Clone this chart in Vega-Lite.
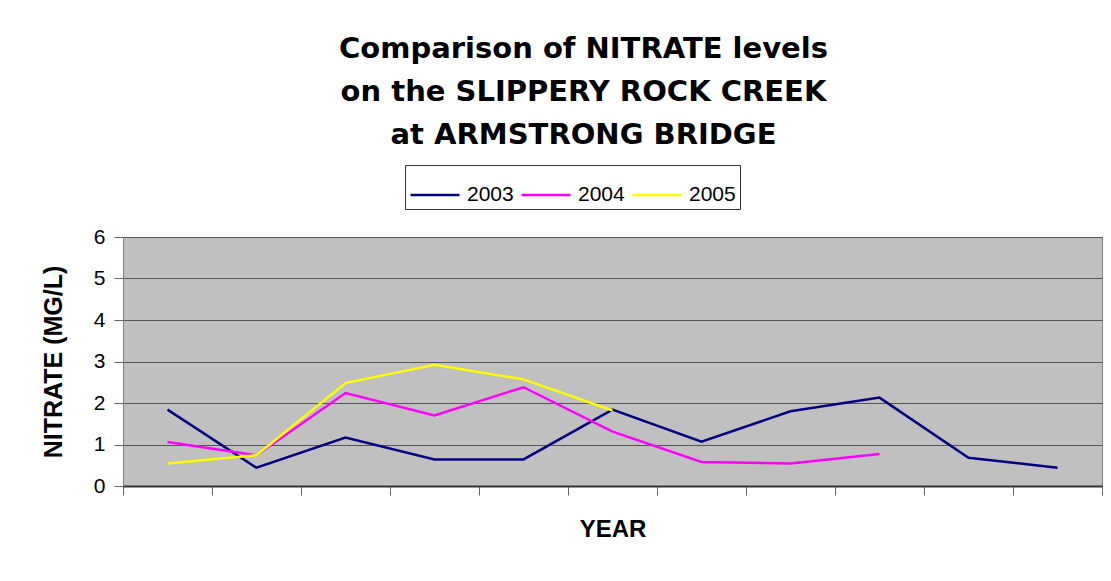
{
  "$schema": "https://vega.github.io/schema/vega-lite/v6.json",
  "width": 979,
  "height": 249,
  "autosize": {"type": "none"},
  "padding": {"left": 123, "top": 237, "right": 9, "bottom": 95},
  "background": "white",
  "title": {
    "text": ["Comparison of NITRATE levels", "on the SLIPPERY ROCK CREEK", "at ARMSTRONG BRIDGE"],
    "font": "DejaVu Sans",
    "fontWeight": "bold",
    "fontSize": 29,
    "lineHeight": 43,
    "anchor": "middle",
    "dx": -29,
    "offset": 15,
    "color": "black"
  },
  "data": {
    "values": [
      {"sample": "1", "year": "2003", "nitrate": 1.84},
      {"sample": "2", "year": "2003", "nitrate": 0.44},
      {"sample": "3", "year": "2003", "nitrate": 1.17},
      {"sample": "4", "year": "2003", "nitrate": 0.64},
      {"sample": "5", "year": "2003", "nitrate": 0.64},
      {"sample": "6", "year": "2003", "nitrate": 1.84},
      {"sample": "7", "year": "2003", "nitrate": 1.07},
      {"sample": "8", "year": "2003", "nitrate": 1.80},
      {"sample": "9", "year": "2003", "nitrate": 2.13},
      {"sample": "10", "year": "2003", "nitrate": 0.68},
      {"sample": "11", "year": "2003", "nitrate": 0.44},
      {"sample": "1", "year": "2004", "nitrate": 1.06},
      {"sample": "2", "year": "2004", "nitrate": 0.74},
      {"sample": "3", "year": "2004", "nitrate": 2.24},
      {"sample": "4", "year": "2004", "nitrate": 1.70},
      {"sample": "5", "year": "2004", "nitrate": 2.38},
      {"sample": "6", "year": "2004", "nitrate": 1.31},
      {"sample": "7", "year": "2004", "nitrate": 0.58},
      {"sample": "8", "year": "2004", "nitrate": 0.54},
      {"sample": "9", "year": "2004", "nitrate": 0.77},
      {"sample": "1", "year": "2005", "nitrate": 0.54},
      {"sample": "2", "year": "2005", "nitrate": 0.74},
      {"sample": "3", "year": "2005", "nitrate": 2.48},
      {"sample": "4", "year": "2005", "nitrate": 2.92},
      {"sample": "5", "year": "2005", "nitrate": 2.57},
      {"sample": "6", "year": "2005", "nitrate": 1.82}
    ]
  },
  "mark": {"type": "line", "strokeWidth": 2.5},
  "encoding": {
    "x": {
      "field": "sample",
      "type": "ordinal",
      "sort": ["1","2","3","4","5","6","7","8","9","10","11"],
      "scale": {"paddingInner": 0, "paddingOuter": 0},
      "axis": {
        "title": "YEAR",
        "labels": false,
        "tickBand": "extent",
        "ticks": true,
        "tickSize": 9,
        "tickColor": "#666666",
        "domainColor": "#333333",
        "domainWidth": 2,
        "grid": false,
        "titleFont": "Liberation Sans",
        "titleFontSize": 24,
        "titleFontWeight": "bold",
        "titlePadding": 22,
        "titleColor": "black"
      }
    },
    "y": {
      "field": "nitrate",
      "type": "quantitative",
      "scale": {"domain": [0, 6], "nice": false},
      "axis": {
        "title": "NITRATE (MG/L)",
        "values": [0, 1, 2, 3, 4, 5, 6],
        "tickSize": 9,
        "tickColor": "#666666",
        "domainColor": "#808080",
        "gridColor": "#555555",
        "gridWidth": 1,
        "labelFont": "Liberation Sans",
        "labelFontSize": 21,
        "labelColor": "black",
        "labelPadding": 9,
        "titleFont": "Liberation Sans",
        "titleFontSize": 25,
        "titleFontWeight": "bold",
        "titlePadding": 27,
        "titleColor": "black"
      }
    },
    "color": {
      "field": "year",
      "type": "nominal",
      "scale": {"domain": ["2003", "2004", "2005"], "range": ["#000080", "#FF00FF", "#FFFF00"]},
      "legend": {
        "title": null,
        "orient": "none",
        "legendX": 282,
        "legendY": -72,
        "direction": "horizontal",
        "symbolType": "stroke",
        "symbolSize": 2401,
        "symbolStrokeWidth": 2.5,
        "labelFont": "Liberation Sans",
        "labelFontSize": 21,
        "labelColor": "black",
        "labelOffset": 6,
        "columnPadding": 2,
        "padding": 4,
        "strokeColor": "#333333",
        "fillColor": "white"
      }
    }
  },
  "config": {"view": {"fill": "#C0C0C0", "stroke": "#808080", "strokeWidth": 1}}
}
